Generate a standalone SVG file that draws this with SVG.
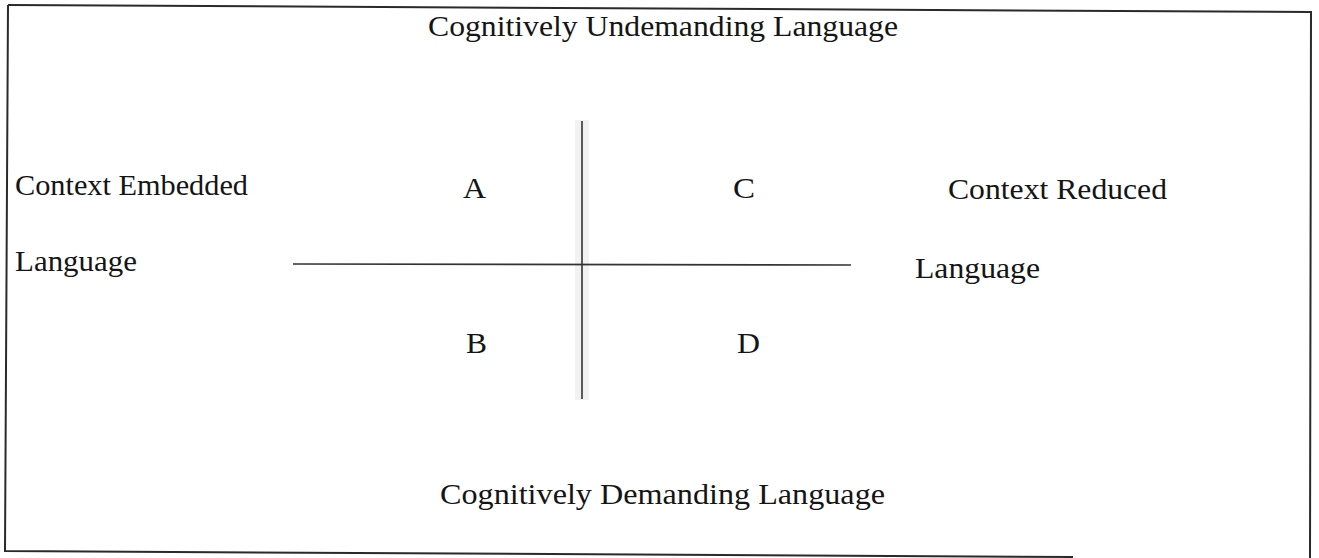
<svg xmlns="http://www.w3.org/2000/svg" width="1319" height="558" viewBox="0 0 1319 558">
<style>
.t{font-family:"Liberation Serif","Times New Roman",serif;font-size:30px;fill:#151515}
.b{stroke:#2a2a2a;stroke-width:2;fill:none}
.ax{stroke:#333;stroke-width:1.6;fill:none}
</style>
<rect width="1319" height="558" fill="#fff"/>
<g id="frame">
<path class="b" d="M8,5 L1311,12 L1310,558"/>
<path class="b" d="M8,5 L5,551 L1073,557"/>
</g>
<g id="connectors">
<rect x="575" y="120" width="14" height="280" fill="#f2f2f2"/>
<line class="ax" x1="582" y1="121" x2="582" y2="399"/>
<line class="ax" x1="293" y1="264" x2="851" y2="265"/>
</g>
<g id="top"><text class="t" x="428" y="36" textLength="470" lengthAdjust="spacingAndGlyphs">Cognitively Undemanding Language</text></g>
<g id="left"><text class="t" x="15" y="195" textLength="233" lengthAdjust="spacingAndGlyphs">Context Embedded</text>
<text class="t" x="15" y="271" textLength="122" lengthAdjust="spacingAndGlyphs">Language</text></g>
<g id="right"><text class="t" x="948" y="199" textLength="219" lengthAdjust="spacingAndGlyphs">Context Reduced</text>
<text class="t" x="915" y="278" textLength="125" lengthAdjust="spacingAndGlyphs">Language</text></g>
<g id="A"><text class="t" x="463" y="198" textLength="23" lengthAdjust="spacingAndGlyphs">A</text></g>
<g id="C"><text class="t" x="733" y="198" textLength="22" lengthAdjust="spacingAndGlyphs">C</text></g>
<g id="B"><text class="t" x="466" y="353" textLength="21" lengthAdjust="spacingAndGlyphs">B</text></g>
<g id="D"><text class="t" x="737" y="353" textLength="23" lengthAdjust="spacingAndGlyphs">D</text></g>
<g id="bottom"><text class="t" x="440" y="504" textLength="445" lengthAdjust="spacingAndGlyphs">Cognitively Demanding Language</text></g>
</svg>
